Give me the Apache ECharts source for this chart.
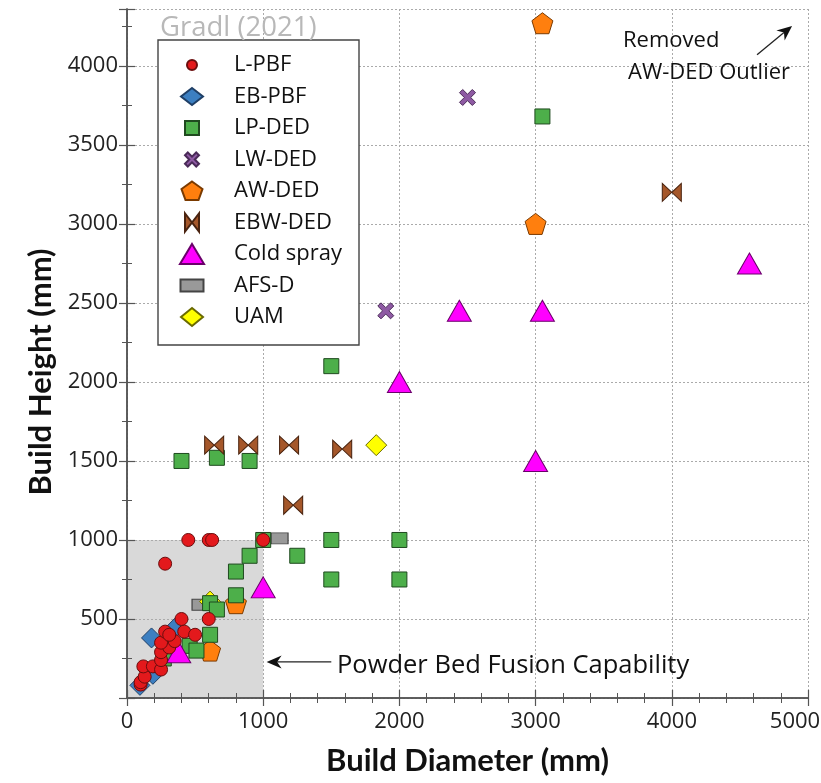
<!DOCTYPE html>
<html><head><meta charset="utf-8">
<script src="https://cdn.jsdelivr.net/npm/echarts@6/dist/echarts.min.js"></script>
<style>html,body{margin:0;padding:0;background:#fff}#c{width:821px;height:783px}</style>
</head><body><div id="c"></div>
<script>
// ---- data (Build Diameter mm, Build Height mm) ----
const seriesNames = ['L-PBF','EB-PBF','LP-DED','LW-DED','AW-DED','EBW-DED','Cold spray','AFS-D','UAM'];
const lpbf = [[100,85],[100,100],[130,135],[120,200],[190,200],[250,180],[250,240],[250,290],[310,320],[250,350],[350,360],[280,420],[310,400],[420,420],[500,400],[400,500],[600,500],[280,850],[450,1000],[600,1000],[625,1000],[1000,1000]];
const ebpbf = [[95,80],[190,150],[180,380],[350,440]];
const lpded = [[270,250],[460,330],[510,300],[610,400],[610,600],[660,560],[800,650],[800,800],[900,900],[1000,1000],[1250,900],[1500,750],[2000,750],[1500,1000],[2000,1000],[400,1500],[660,1520],[900,1500],[1500,2100],[3050,3680]];
const lwded = [[1900,2450],[2500,3800]];
const awded = [[610,300],[800,600],[3000,3000],[3050,4270]];
const ebwded = [[640,1600],[890,1600],[1190,1600],[1580,1575],[1220,1220],[4000,3200]];
const coldSpray = [[380,290],[1000,700],[2000,2000],[3000,1500],[2440,2450],[3050,2450],[4570,2750]];
const afsd = [[540,590],[1120,1010]];
const uam = [[610,610],[1830,1600]];
const pbfRegion = [[0,0],[1000,1000]];
const xTickValues = [0,1000,2000,3000,4000,5000];
const yTickValues = [500,1000,1500,2000,2500,3000,3500,4000];

const FONT = 'Open Sans';
const xSym = 'path://M-3,-5 L0,-2 L3,-5 L5,-3 L2,0 L5,3 L3,5 L0,2 L-3,5 L-5,3 L-2,0 L-5,-3 Z';
const pentSym = 'path://M0,-10 L9.51,-3.09 L5.88,8.09 L-5.88,8.09 L-9.51,-3.09 Z';
const bowSym = 'path://M0,0 L-7,-8 L-7,8 Z M0,0 L7,-8 L7,8 Z';

// legend icons: 24x20 frame (moveTo corners) + shape
const F = 'M-12,-10 M12,10 ';
const legendIcons = {
  'L-PBF': F+'M-5,0 A5,5 0 1,0 5,0 A5,5 0 1,0 -5,0 Z',
  'EB-PBF': F+'M0,-8.5 L11,0 L0,8.5 L-11,0 Z',
  'LP-DED': F+'M-7,-7 L7,-7 L7,7 L-7,7 Z',
  'LW-DED': F+'M-4.2,-7 L0,-2.8 L4.2,-7 L7,-4.2 L2.8,0 L7,4.2 L4.2,7 L0,2.8 L-4.2,7 L-7,4.2 L-2.8,0 L-7,-4.2 Z',
  'AW-DED': F+'M0,-9.5 L10.5,-2 L6.5,9 L-6.5,9 L-10.5,-2 Z',
  'EBW-DED': F+'M0,0 L-7,-9 L-7,9 Z M0,0 L7,-9 L7,9 Z',
  'Cold spray': F+'M0,-10 L12,10 L-12,10 Z',
  'AFS-D': F+'M-11.5,-6 L11.5,-6 L11.5,6 L-11.5,6 Z',
  'UAM': F+'M0,-9 L11,0 L0,9 L-11,0 Z'
};

function sc(name, data, symbol, size, fill, border, z) {
  return { name, type:'scatter', data, symbol, symbolSize:size, z: z||5,
    itemStyle:{color:fill, borderColor:border, borderWidth:1, opacity:1}, emphasis:{disabled:true} };
}

const chart = echarts.init(document.getElementById('c'));
const axisCommon = {
  type:'value', min:0,
  axisLine:{show:true, lineStyle:{color:'#555', width:1.5}},
  axisTick:{show:true, inside:true, length:8, lineStyle:{color:'#555', width:1.2}},
  z:3
};
chart.setOption({
  animation:false,
  grid:{left:127, right:13, top:9, bottom:85, containLabel:false, outerBoundsMode:'none'},
  xAxis:[
    Object.assign({}, axisCommon, {max:5000, interval:1000, position:'bottom',
      minorTick:{show:true, splitNumber:5, length:5, lineStyle:{color:'#555'}},
      axisLabel:{fontFamily:FONT, fontSize:22, color:'#222', margin:13,
        formatter:v=> v===5000 ? '{r|'+v+'}' : String(v),
        rich:{r:{fontFamily:FONT, fontSize:22, color:'#222', padding:[0,26,0,0]}}},
      splitLine:{show:true, lineStyle:{color:'#aaa', type:[2,2], width:1}},
      name:'Build Diameter (mm)', nameLocation:'middle', nameGap:47,
      nameTextStyle:{fontFamily:'Lato', fontWeight:'bold', fontSize:31, color:'#111'}}),
    Object.assign({}, axisCommon, {max:5000, interval:1000, position:'top',
      minorTick:{show:true, splitNumber:5, length:5, lineStyle:{color:'#555'}},
      axisLabel:{show:false}, splitLine:{show:false}})
  ],
  yAxis:[
    Object.assign({}, axisCommon, {max:4360, interval:500, position:'left',
      minorTick:{show:true, splitNumber:2, length:5, lineStyle:{color:'#555'}},
      axisLabel:{fontFamily:FONT, fontSize:22, color:'#222', margin:9,
        formatter:v=> yTickValues.indexOf(v)>=0 ? String(v) : ''},
      splitLine:{show:true, lineStyle:{color:'#aaa', type:[2,2], width:1}}}),
    Object.assign({}, axisCommon, {max:4360, interval:500, position:'right',
      minorTick:{show:true, splitNumber:2, length:5, lineStyle:{color:'#555'}},
      axisLabel:{show:false}, splitLine:{show:false}})
  ],
  legend:{
    orient:'vertical', left:158, top:40,
    data:seriesNames.map(n=>({name:n, icon:'path://'+legendIcons[n]})),
    backgroundColor:'#fff', borderColor:'#444', borderWidth:1.4,
    padding:[14,17,17,21], itemGap:9.5, itemWidth:24, itemHeight:20,
    textStyle:{fontFamily:FONT, fontSize:22, color:'#111', padding:[0,0,0,25]},
    z:6
  },
  series:[
    {type:'scatter', data:[], z:1, silent:true,
     markArea:{silent:true, itemStyle:{color:'#d9d9d9'},
       data:[[{coord:pbfRegion[0]},{coord:pbfRegion[1]}]]}},
    sc('L-PBF', lpbf, 'circle', 13, '#e3191c', '#6a0d0d', 9),
    sc('EB-PBF', ebpbf, 'diamond', 20, '#3c7fc1', '#1f3f66', 5),
    sc('LP-DED', lpded, 'rect', 15, '#4daf4a', '#1f4a1f', 6),
    sc('LW-DED', lwded, xSym, 16, '#8e5aa3', '#4a2a58', 6),
    sc('AW-DED', awded, pentSym, 21, '#ff7f0e', '#7a3a00', 5),
    sc('EBW-DED', ebwded, bowSym, [19,18], '#a5572a', '#4a2410', 6),
    sc('Cold spray', coldSpray, 'triangle', [24,21], '#ff00ff', '#6a006a', 7),
    sc('AFS-D', afsd, 'rect', [17,11], '#999999', '#444', 4),
    sc('UAM', uam, 'diamond', 21, '#ffff00', '#6a6a00', 4)
  ]
});

const p = (x,y)=>chart.convertToPixel({xAxisIndex:0,yAxisIndex:0},[x,y]);
function arrow(from, to) {
  const a = p(from[0],from[1]), b = p(to[0],to[1]);
  const dx=b[0]-a[0], dy=b[1]-a[1], L=Math.hypot(dx,dy), ux=dx/L, uy=dy/L;
  const hl=15, hw=6.5;
  const base=[b[0]-ux*hl, b[1]-uy*hl];
  const notch=[b[0]-ux*hl*0.7, b[1]-uy*hl*0.7];
  return [
    {type:'line', shape:{x1:a[0],y1:a[1],x2:notch[0],y2:notch[1]}, style:{stroke:'#222', lineWidth:1.3}, z:10},
    {type:'polygon', shape:{points:[b,[base[0]-uy*hw, base[1]+ux*hw],notch,[base[0]+uy*hw, base[1]-ux*hw]]}, style:{fill:'#111'}, z:10}
  ];
}
const g = [];
g.push(...arrow([1500,228],[1025,228]));
g.push(...arrow([4626,4070],[4883,4253]));
g.push({type:'text', x:337, y:666, style:{text:'Powder Bed Fusion Capability', font:'25.5px "Open Sans"', fill:'#111', textVerticalAlign:'middle'}, z:10});
g.push({type:'text', x:623, y:41, style:{text:'Removed', font:'22px "Open Sans"', fill:'#111', textVerticalAlign:'middle'}, z:10});
g.push({type:'text', x:628, y:73, style:{text:'AW-DED Outlier', font:'22px "Open Sans"', fill:'#111', textVerticalAlign:'middle'}, z:10});
g.push({type:'text', x:160, y:28, style:{text:'Gradl (2021)', font:'27.5px "Open Sans"', fill:'#b8b8b8', textVerticalAlign:'middle'}, z:20});
g.push({type:'text', x:41, y:372, rotation:Math.PI/2, style:{text:'Build Height (mm)', font:'bold 31px Lato', fill:'#111', textAlign:'center', textVerticalAlign:'middle'}, z:10});
chart.setOption({graphic:g});
</script></body></html>
